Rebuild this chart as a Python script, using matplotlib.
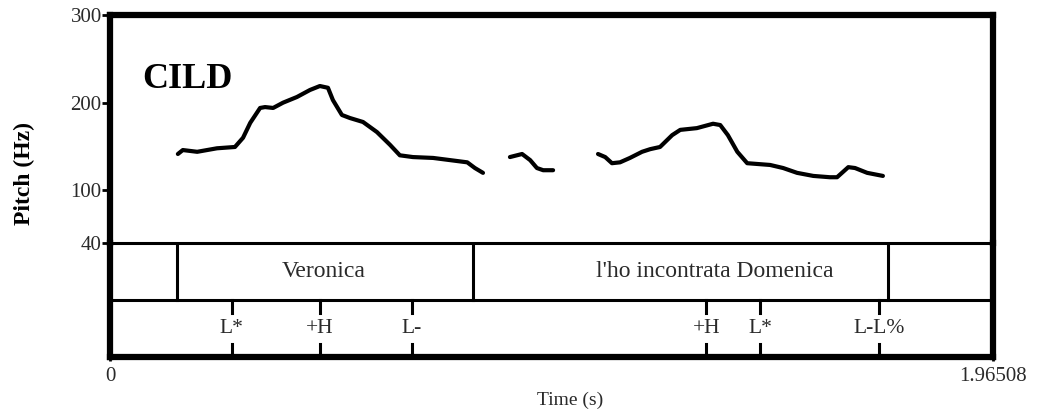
import matplotlib
matplotlib.use('Agg')
import matplotlib.pyplot as plt

# Praat-style pitch track with interval tier and tone tier

t_max = 1.96508
pitch_ticks = [40, 100, 200, 300]

# pitch contour, three voiced stretches (time s, pitch Hz)
seg1_t = [0.151, 0.162, 0.194, 0.238, 0.278, 0.296, 0.312, 0.334, 0.345, 0.363,
          0.385, 0.416, 0.445, 0.467, 0.485, 0.496, 0.516, 0.534, 0.563, 0.594,
          0.623, 0.645, 0.674, 0.719, 0.757, 0.795, 0.812, 0.830]
seg1_f = [141.5, 146, 144, 148, 149.5, 160, 177, 194, 195, 194,
          200, 206.5, 214.5, 219, 217, 203, 186, 182.5, 178, 166.5,
          152, 140, 138, 137, 134.5, 132, 125.5, 120]
seg2_t = [0.890, 0.917, 0.935, 0.950, 0.964, 0.986]
seg2_f = [138, 141.5, 134.5, 125.5, 123, 123]
seg3_t = [1.086, 1.102, 1.117, 1.135, 1.157, 1.184, 1.202, 1.224, 1.251, 1.269,
          1.306, 1.342, 1.358, 1.375, 1.396, 1.418, 1.469, 1.498, 1.529, 1.565,
          1.602, 1.618, 1.643, 1.658, 1.685, 1.720]
seg3_f = [141.5, 138, 131, 132, 137, 144, 147, 149.5, 163, 169,
          171, 176, 174.5, 163, 144, 131, 129, 125.5, 120, 116.5,
          115, 115, 126.5, 125.5, 120, 116.5]

# interval tier
bounds = [0.149, 0.808, 1.732]
words = ['Veronica', "l'ho incontrata Domenica"]
word_x = [0.475, 1.346]

# tone tier
tone_t = [0.271, 0.467, 0.671, 1.327, 1.447, 1.712]
tones = ['L*', '+H', 'L-', '+H', 'L*', 'L-L%']

plt.rcParams['font.family'] = ['Liberation Serif', 'DejaVu Serif']
txt = '#2a2a2a'
thick = 4.5
thin = 2.2

fig = plt.figure(figsize=(10.37, 4.13), dpi=100)
ax = fig.add_axes([0.1061, 0.4116, 0.8515, 0.5521])
ax2 = fig.add_axes([0.1061, 0.1356, 0.8515, 0.2760])
ax2.patch.set_alpha(0)

for seg_t, seg_f in ((seg1_t, seg1_f), (seg2_t, seg2_f), (seg3_t, seg3_f)):
    ax.plot(seg_t, seg_f, color='black', lw=3, solid_capstyle='round')

ax.set_xlim(0, t_max)
ax.set_ylim(40, 300)
ax.set_xticks([])
ax.set_yticks(pitch_ticks)
ax.set_yticklabels([str(v) for v in pitch_ticks], fontsize=15, color=txt)
ax.tick_params(axis='y', length=6, width=2, pad=0)
for s in ('top', 'left', 'right'):
    ax.spines[s].set_linewidth(thick)
ax.spines['bottom'].set_linewidth(thin)
ax.text(0.072, 226, 'CILD', fontsize=26, fontweight='bold', va='center', ha='left')

# tiers
ax2.set_xlim(0, t_max)
ax2.set_ylim(0, 2)
ax2.axhline(1, color='black', lw=thin)
for b in bounds:
    ax2.plot([b, b], [1, 2], color='black', lw=thin)
for w, x in zip(words, word_x):
    ax2.text(x, 1.5, w, ha='center', va='center', fontsize=17, color=txt)
for t, lab in zip(tone_t, tones):
    ax2.plot([t, t], [0.77, 1], color='black', lw=thin)
    ax2.plot([t, t], [0, 0.23], color='black', lw=thin)
    ax2.text(t, 0.5, lab, ha='center', va='center', fontsize=15.5, color=txt)
ax2.set_yticks([])
ax2.set_xticks([0, t_max])
ax2.set_xticklabels(['0', '1.96508'], fontsize=15, color=txt)
ax2.tick_params(axis='x', length=3, width=2, pad=4)
for s in ('bottom', 'left', 'right'):
    ax2.spines[s].set_linewidth(thick)
ax2.spines['top'].set_visible(False)

fig.text(0.55, 0.03, 'Time (s)', ha='center', va='center', fontsize=14, color=txt)
fig.text(0.024, 0.58, 'Pitch (Hz)', rotation=90, ha='center', va='center',
         fontsize=17, fontweight='bold')

fig.savefig('out.png', dpi=100)
